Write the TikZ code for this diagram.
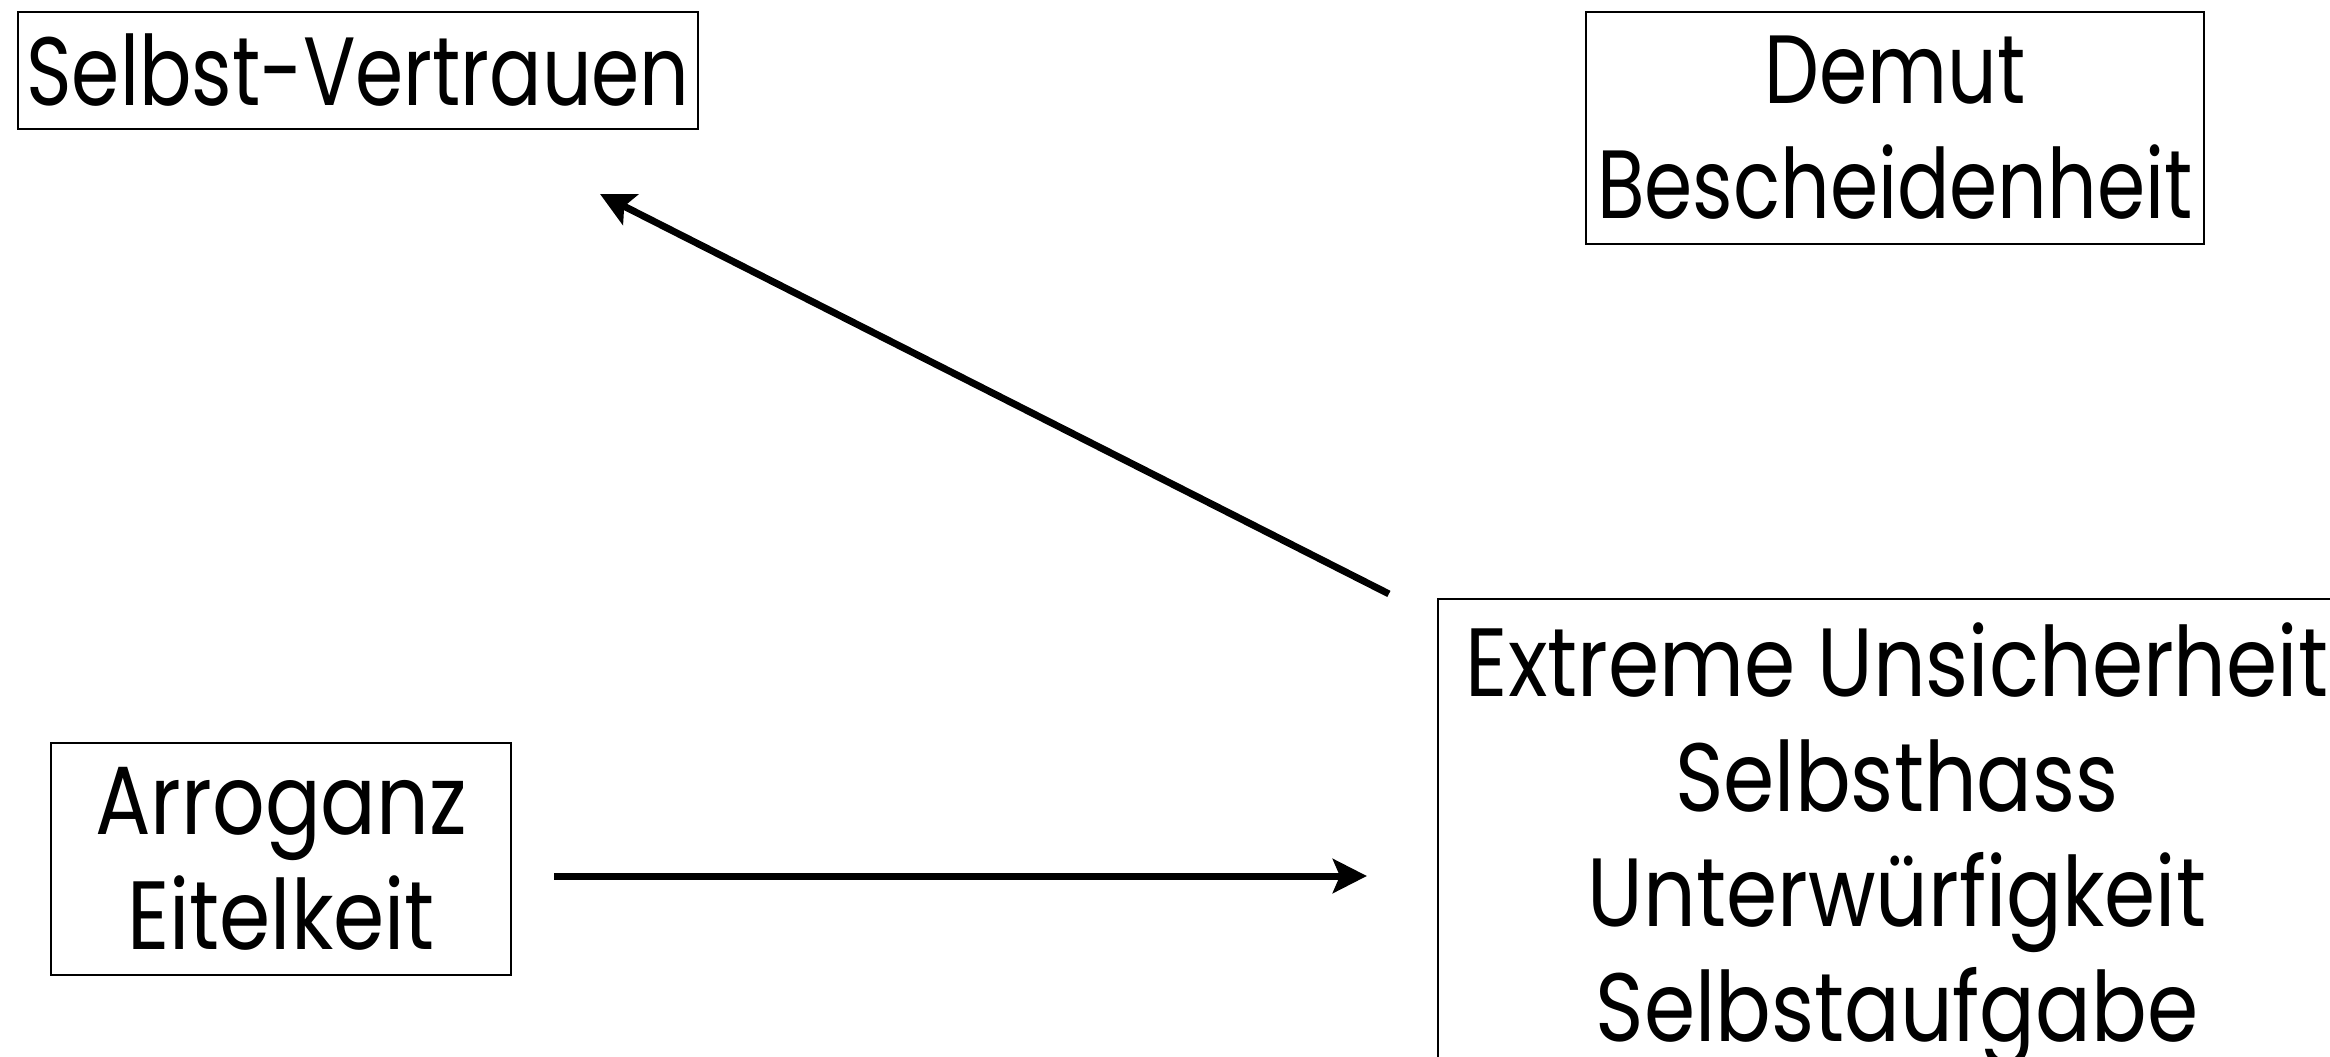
\documentclass[tikz,border=0pt]{standalone}
\usepackage{fontspec}
\setmainfont[FakeStretch=0.85]{Poppins}
\newfontfamily\narrowfont[FakeStretch=0.80]{Poppins}
\usetikzlibrary{arrows.meta,calc}
\begin{document}
\begin{tikzpicture}[x=1pt,y=-1pt,
  box/.style={draw, line width=2.2pt, align=center, inner sep=0pt,
    font=\fontsize{97}{115}\selectfont},
  narrowbox/.style={box, font=\narrowfont\fontsize{97}{115}\selectfont},
  arr/.style={line width=7pt,
    -{Stealth[length=34pt,width=34pt,inset=7pt]}}]
\useasboundingbox (0,0) rectangle (2330,1057);
\clip (0,0) rectangle (2330,1057);
\node[narrowbox, minimum width=680pt, minimum height=117pt] (sv) at (358,70.5) {Selbst-Vertrauen};
\node[narrowbox, minimum width=618pt, minimum height=232pt] (de) at (1895,128) {Demut\\Bescheidenheit};
\node[box, minimum width=460pt, minimum height=232pt] (ar) at (281,859) {Arroganz\\Eitelkeit};
\node[box, minimum width=918pt, minimum height=492pt] (ex) at (1897,845) {Extreme Unsicherheit\\Selbsthass\\Unterwürfigkeit\\Selbstaufgabe};
\draw[arr] ($(ar.east)+(42,17)$) -- ($(ex.west)+(-70,31)$);
\draw[arr] ($(ex.north west)+(-48,-4)$) -- ($(sv.south east)+(-99,64)$);
\end{tikzpicture}
\end{document}
